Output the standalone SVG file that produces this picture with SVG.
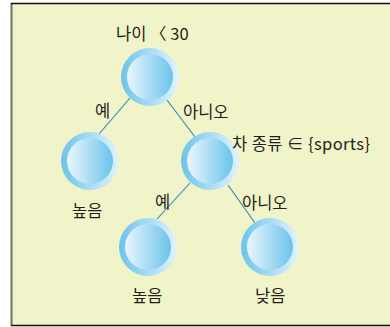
<svg xmlns="http://www.w3.org/2000/svg" width="390" height="327" viewBox="0 0 390 327">
<defs>
<linearGradient id="ring" x1="0" y1="0" x2="1" y2="0">
<stop offset="0" stop-color="#6cc3ec"/>
<stop offset="1" stop-color="#e2f3fc"/>
</linearGradient>
<linearGradient id="core" x1="0" y1="0" x2="1" y2="0">
<stop offset="0" stop-color="#eaf6fd"/>
<stop offset="1" stop-color="#6ac3eb"/>
</linearGradient>
<g id="ball">
<circle r="29" fill="url(#ring)"/>
<circle r="23" fill="url(#core)"/>
</g>
</defs>
<style>
.t{font-family:"Noto Sans CJK KR","Noto Sans",sans-serif;font-size:16.5px;fill:#231f20}
.e{stroke:#2586c4;stroke-width:1.1;fill:none}
</style>
<rect x="11" y="3" width="379" height="323" fill="#f1f3c9"/>
<line x1="11.5" y1="3" x2="11.5" y2="326" stroke="#6f6f6f" stroke-width="2"/>
<line x1="11" y1="3.5" x2="390" y2="3.5" stroke="#111" stroke-width="1.5"/>
<line x1="11" y1="325.5" x2="390" y2="325.5" stroke="#111" stroke-width="1.5"/>
<g id="edges">
<line class="e" x1="130" y1="98" x2="99" y2="134"/>
<line class="e" x1="167" y1="100" x2="195" y2="137"/>
<line class="e" x1="190" y1="183" x2="157" y2="219"/>
<line class="e" x1="228" y1="185" x2="255" y2="223"/>
<text class="t" x="95" y="117">예</text>
<text class="t" x="183" y="118">아니오</text>
<text class="t" x="155" y="208">예</text>
<text class="t" x="242" y="209">아니오</text>
</g>
<g id="n1"><use href="#ball" x="150" y="77"/><text class="t" x="116" y="40">나이 〈 30</text></g>
<g id="n2"><use href="#ball" x="90" y="161"/><text class="t" x="72" y="217">높음</text></g>
<g id="n3"><use href="#ball" x="210" y="161"/><text class="t" x="232" y="150" textLength="138" lengthAdjust="spacing">차 종류 ∈ {sports}</text></g>
<g id="n4"><use href="#ball" x="148" y="247"/><text class="t" x="132" y="302">높음</text></g>
<g id="n5"><use href="#ball" x="270" y="247"/><text class="t" x="255" y="302">낮음</text></g>
</svg>
